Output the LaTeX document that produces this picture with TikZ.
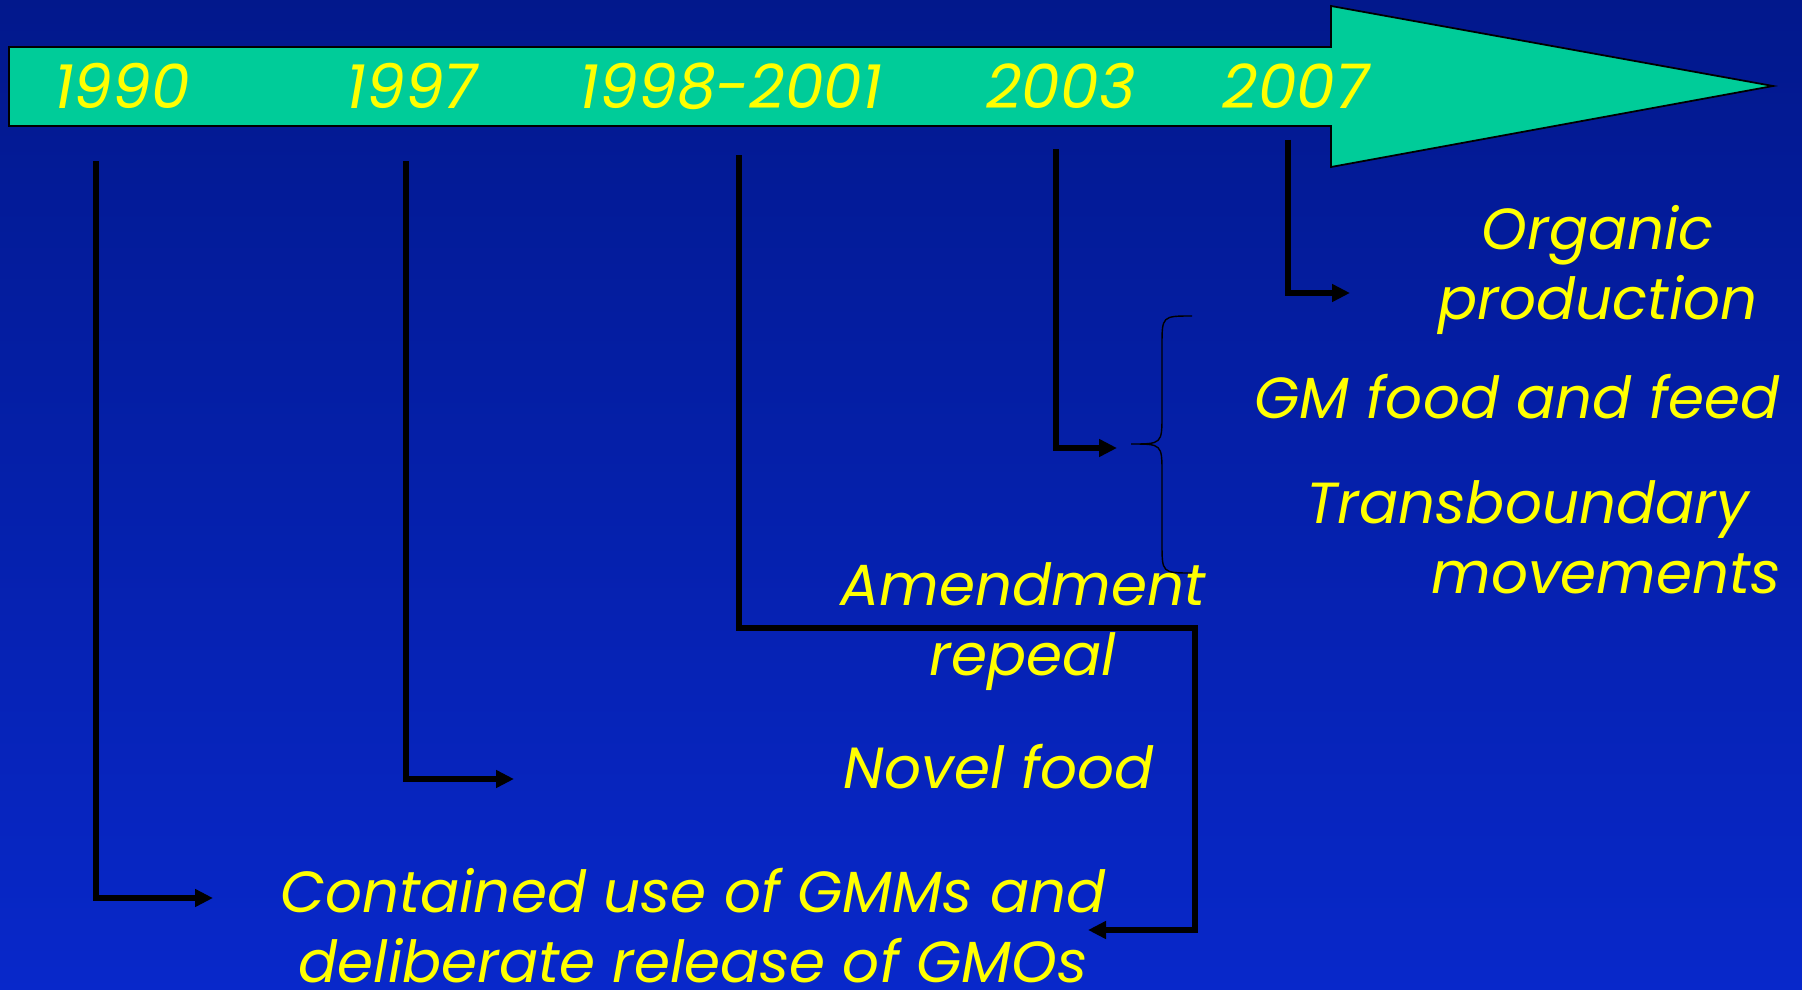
\documentclass[tikz,border=0pt]{standalone}
\usepackage{fontspec}
\setmainfont{Poppins}
\usetikzlibrary{arrows.meta,positioning}
\definecolor{fondoarriba}{RGB}{2,24,140}
\definecolor{fondoabajo}{RGB}{8,40,202}
\definecolor{verdeflecha}{RGB}{0,204,153}
\definecolor{amarillo}{RGB}{255,255,0}
\tikzset{
  anio/.style={
    text=amarillo,
    inner sep=0pt,
    anchor=base,
    font=\fontsize{35}{40}\selectfont\itshape
  },
  texto/.style={
    text=amarillo,
    inner sep=0pt,
    anchor=base,
    align=center,
    font=\fontsize{33}{39.3}\selectfont\itshape
  },
  linea/.style={
    line width=3.6pt,
    black
  },
  flecha/.style={
    linea,
    -{Triangle[length=0.36cm,width=0.34cm]}
  },
  llave/.style={
    line width=0.8pt,
    black
  }
}

\begin{document}
\begin{tikzpicture}[x=0.02cm,y=-0.02cm]
\useasboundingbox (0,0) rectangle (1802,990);
\shade[top color=fondoarriba,bottom color=fondoabajo] (0,0) rectangle (1802,990);

% flecha del tiempo
\draw[fill=verdeflecha,line width=1pt] (9,47) -- (1331,47) -- (1331,6) -- (1773,86)
  -- (1331,167) -- (1331,126) -- (9,126) -- cycle;

\node[anio] (a90) at (122,109) {1990};
\node[anio] (a97) at (412,109) {1997};
\node[anio] (a98) at (731,109) {1998-2001};
\node[anio] (a03) at (1061,109) {2003};
\node[anio] (a07) at (1296,109) {2007};

% textos (base = ultima linea)
\node[texto] (organic) at (1598,319) {Organic\\production};
\node[texto] (gmfood) at (1517,418) {GM food and feed};
\node[texto,align=left,anchor=base west] (transb) at (1306,593) {Transboundary\\\hspace{2.5cm}movements};
\node[texto] (amend) at (1023,675) {Amendment\\repeal};
\node[texto] (novel) at (999,788) {Novel food};
\node[texto] (contained) at (693,982) {Contained use of GMMs and\\deliberate release of GMOs};

% conectores
\coordinate (s90) at (96,161);
\coordinate (e90) at (213,898);
\coordinate (s97) at (406,161);
\coordinate (e97) at (514,779);
\coordinate (s98) at (739,155);
\coordinate (k98) at (1195,628);
\coordinate (e98) at (1088,930);
\coordinate (s03) at (1056,149);
\coordinate (e03) at (1117,448);
\coordinate (s07) at (1288,140);
\coordinate (e07) at (1350,293);

\draw[flecha] (s90) |- (e90);
\draw[flecha] (s97) |- (e97);
\draw[flecha] (s98) |- (k98) |- (e98);
\draw[flecha] (s03) |- (e03);
\draw[flecha] (s07) |- (e07);

% llave
\draw[llave] (1192,316) .. controls (1162,316) .. (1162,346) -- (1162,414)
  .. controls (1162,444) .. (1131,444) .. controls (1162,444) .. (1162,474)
  -- (1162,543) .. controls (1162,573) .. (1192,573);
\end{tikzpicture}
\end{document}
